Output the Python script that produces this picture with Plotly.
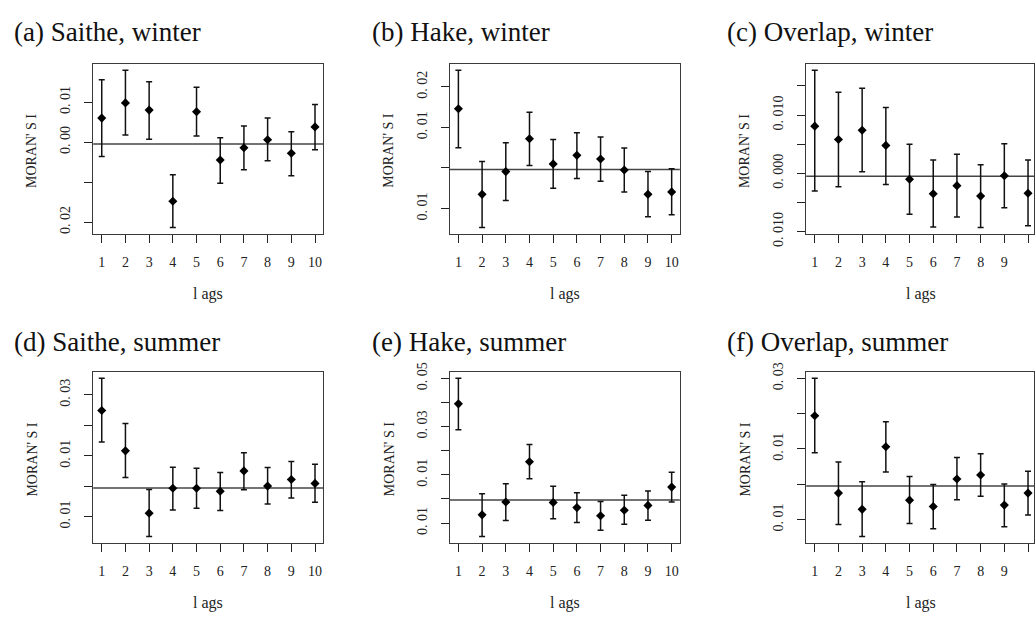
import plotly.graph_objects as go

lags = [1, 2, 3, 4, 5, 6, 7, 8, 9, 10]

titles = ["(a) Saithe, winter", "(b) Hake, winter", "(c) Overlap, winter",
          "(d) Saithe, summer", "(e) Hake, summer", "(f) Overlap, summer"]

# Moran's I estimates, upper and lower interval ends, expected value line
a_val = [0.0060, 0.0098, 0.0080, -0.0148, 0.0076, -0.0045, -0.0014, 0.0006, -0.0028, 0.0038]
a_hi = [0.0156, 0.0180, 0.0151, -0.0082, 0.0137, 0.0011, 0.0040, 0.0060, 0.0026, 0.0094]
a_lo = [-0.0036, 0.0018, 0.0007, -0.0214, 0.0015, -0.0103, -0.0069, -0.0047, -0.0084, -0.0019]
a_exp = -0.0005

b_val = [0.0146, -0.0065, -0.0009, 0.0072, 0.0010, 0.0031, 0.0022, -0.0005, -0.0065, -0.0059]
b_hi = [0.0241, 0.0016, 0.0062, 0.0137, 0.0070, 0.0087, 0.0076, 0.0049, -0.0009, -0.0002]
b_lo = [0.0050, -0.0147, -0.0080, 0.0006, -0.0050, -0.0026, -0.0033, -0.0059, -0.0120, -0.0115]
b_exp = -0.0004

c_val = [0.0081, 0.0058, 0.0074, 0.0048, -0.0010, -0.0035, -0.0021, -0.0039, -0.0004, -0.0034]
c_hi = [0.0177, 0.0139, 0.0146, 0.0113, 0.0050, 0.0023, 0.0033, 0.0015, 0.0051, 0.0023]
c_lo = [-0.0030, -0.0023, 0.0003, -0.0019, -0.0070, -0.0092, -0.0075, -0.0093, -0.0059, -0.0090]
c_exp = -0.0005

d_val = [0.0249, 0.0116, -0.0089, -0.0007, -0.0007, -0.0017, 0.0050, 0.0000, 0.0022, 0.0009]
d_hi = [0.0355, 0.0206, -0.0011, 0.0062, 0.0059, 0.0045, 0.0110, 0.0061, 0.0081, 0.0072]
d_lo = [0.0145, 0.0028, -0.0166, -0.0079, -0.0073, -0.0080, -0.0012, -0.0059, -0.0039, -0.0053]
d_exp = -0.0006

e_val = [0.0394, -0.0066, -0.0013, 0.0154, -0.0015, -0.0036, -0.0070, -0.0047, -0.0027, 0.0049]
e_hi = [0.0500, 0.0021, 0.0063, 0.0225, 0.0052, 0.0025, -0.0011, 0.0015, 0.0033, 0.0110]
e_lo = [0.0287, -0.0156, -0.0090, 0.0084, -0.0082, -0.0098, -0.0130, -0.0105, -0.0088, -0.0013]
e_exp = -0.0005

f_val = [0.0194, -0.0025, -0.0071, 0.0106, -0.0045, -0.0063, 0.0015, 0.0026, -0.0059, -0.0025]
f_hi = [0.0300, 0.0063, 0.0007, 0.0177, 0.0022, -0.0001, 0.0076, 0.0086, 0.0001, 0.0037]
f_lo = [0.0089, -0.0114, -0.0148, 0.0035, -0.0111, -0.0126, -0.0044, -0.0034, -0.0120, -0.0087]
f_exp = -0.0005

# y tick positions and their (as printed) labels
a_tv = [-0.02, -0.01, 0.0, 0.01]
a_tt = ["0. 02", "", "0. 00", "0. 01"]
b_tv = [-0.01, 0.0, 0.01, 0.02]
b_tt = ["0. 01", "", "0. 01", "0. 02"]
c_tv = [-0.010, -0.005, 0.0, 0.005, 0.010, 0.015]
c_tt = ["0. 010", "", "0. 000", "", "0. 010", ""]
d_tv = [-0.01, 0.0, 0.01, 0.02, 0.03]
d_tt = ["0. 01", "", "0. 01", "", "0. 03"]
e_tv = [-0.01, 0.0, 0.01, 0.02, 0.03, 0.04, 0.05]
e_tt = ["0. 01", "", "0. 01", "", "0. 03", "", "0. 05"]
f_tv = [-0.01, 0.0, 0.01, 0.02, 0.03]
f_tt = ["0. 01", "", "0. 01", "", "0. 03"]

x_ticklabels = ["1", "2", "3", "4", "5", "6", "7", "8", "9", "10"]
ylabel = "MORAN' S I"
xlabel = "l ags"

panels = [
    (a_val, a_hi, a_lo, a_exp, a_tv, a_tt),
    (b_val, b_hi, b_lo, b_exp, b_tv, b_tt),
    (c_val, c_hi, c_lo, c_exp, c_tv, c_tt),
    (d_val, d_hi, d_lo, d_exp, d_tv, d_tt),
    (e_val, e_hi, e_lo, e_exp, e_tv, e_tt),
    (f_val, f_hi, f_lo, f_exp, f_tv, f_tt),
]

W, H = 1035, 623
col_px = [(93.3, 323.8), (450.3, 680.5), (807.0, 1035.0)]
row_px = [(55.9, 232.5), (375.8, 553.3)]
unit_px = 23.72  # pixels per lag unit

SERIF = "Liberation Serif"
fig = go.Figure()
layout = dict(width=W, height=H, margin=dict(l=0, r=0, t=0, b=0),
              paper_bgcolor="white", plot_bgcolor="white", showlegend=False)
annotations = []
shapes = []

for i, (val, hi, lo, ex, tv, tt) in enumerate(panels):
    r, c = divmod(i, 3)
    n = i + 1
    xa = "x" if n == 1 else f"x{n}"
    ya = "y" if n == 1 else f"y{n}"
    x0, x1 = col_px[c]
    y0, y1 = row_px[r]
    span = max(hi) - min(lo)
    yr = [min(lo) - 0.04 * span, max(hi) + 0.04 * span]
    xr0 = 1 - 0.04 * 9
    xr1 = xr0 + (x1 - x0) / unit_px

    fig.add_trace(go.Scatter(
        x=lags, y=val, mode="markers", xaxis=xa, yaxis=ya, cliponaxis=False,
        marker=dict(symbol="diamond", size=7, color="black"),
        error_y=dict(type="data", symmetric=False,
                     array=[h - v for h, v in zip(hi, val)],
                     arrayminus=[v - l for v, l in zip(val, lo)],
                     color="#111111", thickness=1.5, width=3),
    ))
    shapes.append(dict(type="line", xref=f"{xa} domain", yref=ya, x0=0, x1=1,
                       y0=ex, y1=ex, line=dict(color="#444444", width=1.5), layer="below"))

    axis_common = dict(showgrid=False, zeroline=False, showline=True, mirror=True,
                       linecolor="#3a3a3a", linewidth=1.3, ticks="outside", ticklen=8,
                       tickwidth=1.2, tickcolor="#222222",
                       tickfont=dict(family=SERIF, size=14, color="#222222"))
    layout["xaxis" if n == 1 else f"xaxis{n}"] = dict(
        axis_common, domain=[x0 / W, x1 / W], range=[xr0, xr1], anchor=ya,
        tickmode="array", tickvals=lags, ticktext=x_ticklabels, ticklabelstandoff=7)
    layout["yaxis" if n == 1 else f"yaxis{n}"] = dict(
        axis_common, domain=[1 - y1 / H, 1 - y0 / H], range=yr, anchor=xa,
        tickmode="array", tickvals=tv, ticktext=tt, tickangle=-90, ticklabelstandoff=8)

    # panel title
    tx = [12, 370, 726][c]
    ty = [22.5, 344.5][r]
    annotations.append(dict(text=titles[i], xref="paper", yref="paper",
                            x=tx / W, y=1 - ty / H, xanchor="left", yanchor="middle",
                            showarrow=False, font=dict(family=SERIF, size=27, color="#111111")))
    # y label
    annotations.append(dict(text=ylabel, xref="paper", yref="paper",
                            x=(x0 - 61) / W, y=1 - ((y0 + y1) / 2 + 2) / H,
                            xanchor="center", yanchor="middle", textangle=-90,
                            showarrow=False, font=dict(family=SERIF, size=14, color="#222222")))
    # x label
    annotations.append(dict(text=xlabel, xref="paper", yref="paper",
                            x=(x0 + (x1 - x0 if c < 2 else 230.5) / 2) / W,
                            y=1 - (y1 + 62) / H, xanchor="center", yanchor="middle",
                            showarrow=False, font=dict(family=SERIF, size=16, color="#222222")))

layout["annotations"] = annotations
layout["shapes"] = shapes
fig.update_layout(**layout)
fig.write_html("out.html", config={"displayModeBar": False},
               post_script="document.body.style.margin='0';document.body.style.overflow='hidden';")
